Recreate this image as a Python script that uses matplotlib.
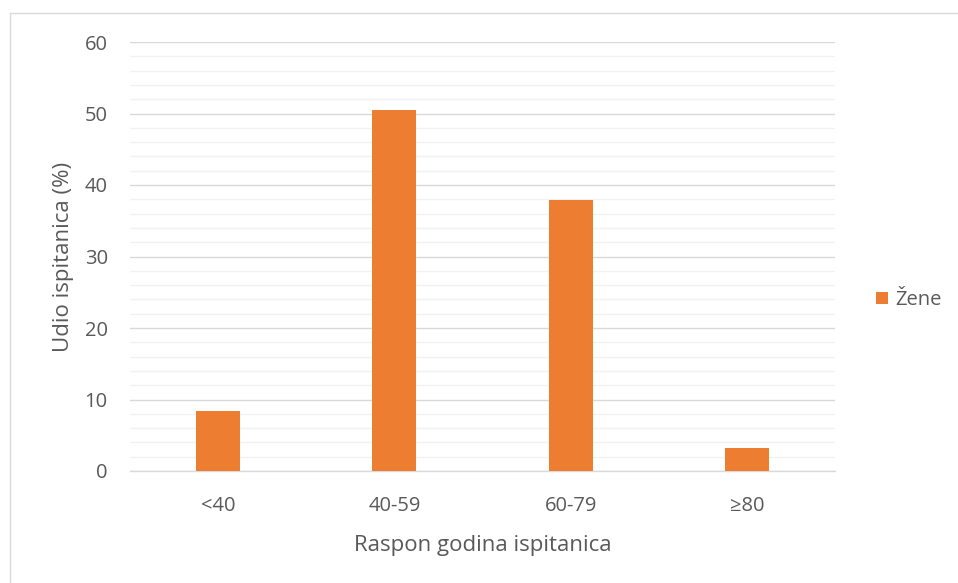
import matplotlib
matplotlib.use("Agg")
import matplotlib.pyplot as plt
from matplotlib.lines import Line2D
import numpy as np

categories = ["<40", "40-59", "60-79", "≥80"]
values = [8.4, 50.5, 37.9, 3.2]
series_name = "Žene"
yticks = [0, 10, 20, 30, 40, 50, 60]

plt.rcParams['font.family'] = ['Open Sans', 'DejaVu Sans']
txt = "#595959"
orange = "#ED7D31"

fig = plt.figure(figsize=(9.58, 5.83), dpi=100)
ax = fig.add_axes([130/958, 1-471/583, (835-130)/958, (471-42)/583])

x = np.arange(len(categories))
ax.bar(x, values, width=0.25, color=orange, zorder=3, label=series_name)
ax.set_xlim(-0.5, len(categories)-0.5)
ax.set_ylim(0, 60)
ax.set_yticks(yticks)
ax.set_yticks(np.arange(0, 61, 2), minor=True)
ax.grid(axis='y', which='major', color='#D9D9D9', linewidth=1.0, zorder=0)
ax.grid(axis='y', which='minor', color='#F2F2F2', linewidth=1.0, zorder=0)
ax.set_xticks(x)
ax.set_xticklabels(categories)
ax.tick_params(axis='both', which='both', length=0, labelsize=14.5, colors=txt)
ax.tick_params(axis='y', pad=16)
ax.tick_params(axis='x', pad=18)
for s in ['top', 'right', 'left']:
    ax.spines[s].set_visible(False)
ax.spines['bottom'].set_color('#D9D9D9')
ax.spines['bottom'].set_linewidth(1.0)
ax.set_xlabel("Raspon godina ispitanica", fontsize=16, color=txt, labelpad=14)
ax.set_ylabel("Udio ispitanica (%)", fontsize=16, color=txt, labelpad=8)

leg = fig.legend(loc='center left', bbox_to_anchor=(876/958, 1-300/583), frameon=False,
                 fontsize=14.5, handlelength=0.6, handleheight=0.6, handletextpad=0.35,
                 borderaxespad=0, borderpad=0)
for t in leg.get_texts():
    t.set_color(txt)

# chart-area border (only top and left edges visible in the crop)
fig.add_artist(Line2D([9.5/958, 1], [1-13/583, 1-13/583], transform=fig.transFigure,
                      color='#D9D9D9', linewidth=1.0))
fig.add_artist(Line2D([9.5/958, 9.5/958], [0, 1-13/583], transform=fig.transFigure,
                      color='#D9D9D9', linewidth=1.0))

fig.savefig("out.png", dpi=100)
